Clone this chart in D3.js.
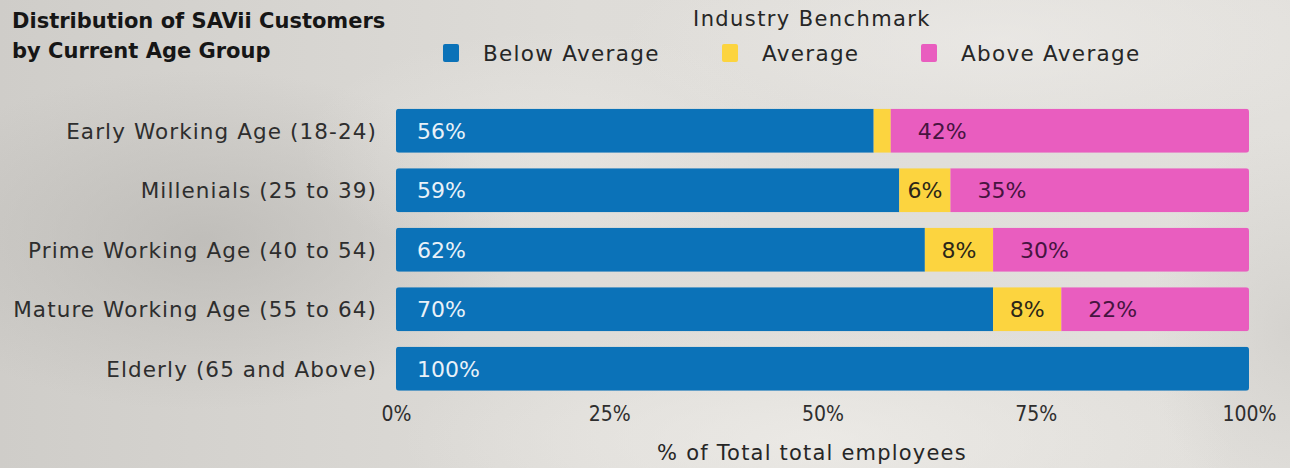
<!DOCTYPE html>
<html>
<head>
<meta charset="utf-8">
<script src="https://cdn.jsdelivr.net/npm/d3@7"></script>
<style>
  html, body { margin: 0; padding: 0; }
  body { width: 1290px; height: 468px; overflow: hidden; }
  svg { display: block; }
</style>
</head>
<body>
<svg id="chart" width="1290" height="468"></svg>
<script>
// Age groups (top to bottom)
const categories = [
  "Early Working Age (18-24)",
  "Millenials (25 to 39)",
  "Prime Working Age (40 to 54)",
  "Mature Working Age (55 to 64)",
  "Elderly (65 and Above)"
];
// Share of customers per benchmark band, in percent
const belowAverage = [56, 59, 62, 70, 100];
const average      = [2, 6, 8, 8, 0];
const aboveAverage = [42, 35, 30, 22, 0];

const seriesNames = ["Below Average", "Average", "Above Average"];
const tickValues = [0, 25, 50, 75, 100];

const W = 1290, H = 468;
const FONT = "'DejaVu Sans', sans-serif";
const CONDENSED = "'DejaVu Sans Condensed', 'DejaVu Sans', sans-serif";
const colors = { "Below Average": "#0b72b8", "Average": "#fcd43f", "Above Average": "#e95dbf" };
const labelColors = { "Below Average": "#e9f1f8", "Average": "#2b2618", "Above Average": "#46143f" };

const svg = d3.select("#chart");
const defs = svg.append("defs");

// Soft grey backdrop
const bgBase = defs.append("linearGradient").attr("id", "bgBase")
  .attr("x1", 0).attr("y1", 0).attr("x2", 1).attr("y2", 0);
bgBase.append("stop").attr("offset", "0%").attr("stop-color", "#cfcdc9");
bgBase.append("stop").attr("offset", "45%").attr("stop-color", "#dedcd8");
bgBase.append("stop").attr("offset", "100%").attr("stop-color", "#e2e0dc");
svg.append("rect").attr("width", W).attr("height", H).attr("fill", "url(#bgBase)");

function blob(id, cx, cy, rx, ry, color, op) {
  const g = defs.append("radialGradient").attr("id", id);
  g.append("stop").attr("offset", "0%").attr("stop-color", color).attr("stop-opacity", op);
  g.append("stop").attr("offset", "100%").attr("stop-color", color).attr("stop-opacity", 0);
  svg.append("ellipse").attr("cx", cx).attr("cy", cy).attr("rx", rx).attr("ry", ry)
    .attr("fill", `url(#${id})`);
}
blob("b1", 200, 240, 320, 170, "#b9b7b3", 0.75);
blob("b2", 820, 440, 420, 120, "#f0eeea", 0.7);
blob("b3", 1000, 40, 380, 110, "#efedea", 0.6);
blob("b4", 1290, 330, 140, 200, "#c8c6c2", 0.5);
blob("b5", 560, 150, 260, 120, "#eceae6", 0.5);

// Scales
const x = d3.scaleLinear().domain([0, 100]).range([396, 1249]);
const y = d3.scaleBand().domain(categories).range([101, 398.5]).paddingInner(0.26).paddingOuter(0.13);

// Stack the three series
const rows = categories.map((c, i) => ({
  category: c,
  "Below Average": belowAverage[i],
  "Average": average[i],
  "Above Average": aboveAverage[i]
}));
const stacked = d3.stack().keys(seriesNames)(rows);

// Rounded clip for every bar
categories.forEach((c, i) => {
  defs.append("clipPath").attr("id", "clip" + i)
    .append("rect")
    .attr("x", x(0)).attr("y", y(c))
    .attr("width", x(100) - x(0)).attr("height", y.bandwidth())
    .attr("rx", 3);
});

const barG = svg.append("g");
stacked.forEach(layer => {
  const key = layer.key;
  layer.forEach((d, i) => {
    const w = x(d[1]) - x(d[0]);
    if (w <= 0) return;
    barG.append("rect")
      .attr("clip-path", `url(#clip${i})`)
      .attr("x", x(d[0])).attr("y", y(categories[i]))
      .attr("width", w).attr("height", y.bandwidth())
      .attr("fill", colors[key]);
  });
});

// Value labels inside segments
const labelG = svg.append("g").attr("font-family", FONT).attr("font-size", 22);
stacked.forEach(layer => {
  const key = layer.key;
  layer.forEach((d, i) => {
    const v = d[1] - d[0];
    if (v < 5) return;
    const yc = y(categories[i]) + y.bandwidth() / 2;
    const t = labelG.append("text")
      .attr("y", yc).attr("dy", "0.36em")
      .attr("fill", labelColors[key])
      .text(v + "%");
    if (key === "Average") {
      t.attr("x", (x(d[0]) + x(d[1])) / 2).attr("text-anchor", "middle");
    } else {
      t.attr("x", x(d[0]) + (key === "Below Average" ? 21 : 27));
    }
  });
});

// Category labels
const yAxis = svg.append("g").attr("transform", `translate(${x(0) - 19},0)`)
  .call(d3.axisLeft(y).tickSize(0).tickPadding(0));
yAxis.select(".domain").remove();
yAxis.selectAll("text").attr("font-family", FONT).attr("font-size", 21.5)
  .attr("letter-spacing", 1.1).attr("fill", "#2e2e2e").attr("dy", "0.36em");

// Bottom axis
const xAxis = svg.append("g").attr("transform", `translate(0,${399})`)
  .call(d3.axisBottom(x).tickValues(tickValues).tickFormat(d => d + "%").tickSize(0).tickPadding(7));
xAxis.select(".domain").remove();
xAxis.selectAll("text").attr("font-family", CONDENSED).attr("font-stretch", "condensed")
  .attr("font-size", 21).attr("fill", "#2e2e2e");

svg.append("text").attr("x", 812).attr("y", 460).attr("text-anchor", "middle")
  .attr("font-family", FONT).attr("font-size", 21).attr("letter-spacing", 1.2).attr("fill", "#262626")
  .text("% of Total total employees");

// Title
const title = svg.append("text").attr("font-family", FONT).attr("font-weight", "bold")
  .attr("font-size", 21).attr("fill", "#161616");
title.append("tspan").attr("x", 12).attr("y", 28).text("Distribution of SAVii Customers");
title.append("tspan").attr("x", 12).attr("y", 58).text("by Current Age Group");

// Legend
svg.append("text").attr("x", 812).attr("y", 26).attr("text-anchor", "middle")
  .attr("font-family", FONT).attr("font-size", 21).attr("letter-spacing", 1.4).attr("fill", "#262626")
  .text("Industry Benchmark");
const legendX = [443, 722, 921];
const legend = svg.append("g");
seriesNames.forEach((s, i) => {
  legend.append("rect").attr("x", legendX[i]).attr("y", 44).attr("width", 16).attr("height", 18)
    .attr("rx", 2).attr("fill", colors[s]);
  legend.append("text").attr("x", legendX[i] + 40).attr("y", 53).attr("dy", "0.36em")
    .attr("font-family", FONT).attr("font-size", 21.5).attr("letter-spacing", 1.3)
    .attr("fill", "#262626").text(s);
});
</script>
</body>
</html>
